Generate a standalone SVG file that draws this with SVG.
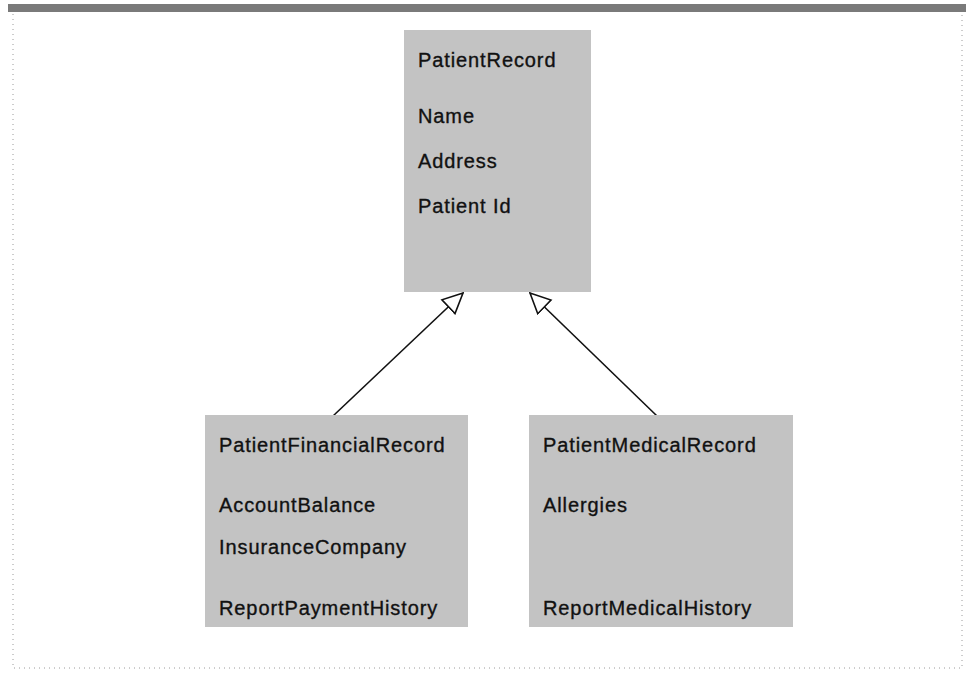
<svg xmlns="http://www.w3.org/2000/svg" width="966" height="676" viewBox="0 0 966 676">
  <style>
    .box { fill: #c3c3c3; }
    .label { font-family: "Liberation Sans", Arial, sans-serif; font-size: 20px; letter-spacing: 0.9px; fill: #111; stroke: #111; stroke-width: 0.35; }
    .link { stroke: #111; stroke-width: 1.6; fill: none; marker-end: url(#inherit); }
    .frame { stroke: #9a9a9a; stroke-width: 1; stroke-dasharray: 1 4; fill: none; }
  </style>
  <defs>
    <!-- hollow triangle for generalisation -->
    <marker id="inherit" markerUnits="userSpaceOnUse" markerWidth="22" markerHeight="22" viewBox="0 0 22 22" refX="21" refY="11" orient="auto">
      <path d="M21,11 L1,1.5 L1,20.5 Z" fill="#fff" stroke="#111" stroke-width="1.6" stroke-linejoin="miter"/>
    </marker>
  </defs>

  <rect width="966" height="676" fill="#fff"/>
  <!-- top rule and page frame -->
  <rect x="8" y="4" width="958" height="8" fill="#7a7a7a"/>
  <path class="frame" d="M13,14 V668 H962 V14"/>

  <g id="connectors">
    <line class="link" x1="333" y1="416" x2="463" y2="293"/>
    <line class="link" x1="657" y1="416" x2="530" y2="293"/>
  </g>

  <g id="PatientRecord">
    <rect class="box" x="404" y="30" width="187" height="262"/>
    <text class="label" x="418" y="67">PatientRecord</text>
    <text class="label" x="418" y="123">Name</text>
    <text class="label" x="418" y="168">Address</text>
    <text class="label" x="418" y="213">Patient Id</text>
  </g>

  <g id="PatientFinancialRecord">
    <rect class="box" x="205" y="415" width="263" height="212"/>
    <text class="label" x="219" y="452">PatientFinancialRecord</text>
    <text class="label" x="219" y="512">AccountBalance</text>
    <text class="label" x="219" y="554">InsuranceCompany</text>
    <text class="label" x="219" y="615">ReportPaymentHistory</text>
  </g>

  <g id="PatientMedicalRecord">
    <rect class="box" x="529" y="415" width="264" height="212"/>
    <text class="label" x="543" y="452">PatientMedicalRecord</text>
    <text class="label" x="543" y="512">Allergies</text>
    <text class="label" x="543" y="615">ReportMedicalHistory</text>
  </g>
</svg>
